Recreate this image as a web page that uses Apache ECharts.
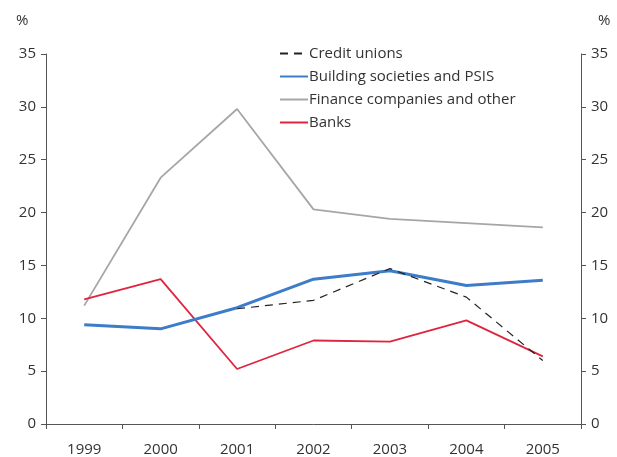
<!DOCTYPE html>
<html><head><meta charset="utf-8">
<script src="https://cdn.jsdelivr.net/npm/echarts@6/dist/echarts.min.js"></script>
<style>html,body{margin:0;padding:0;background:#fff}#c{width:617px;height:457px}</style>
</head><body><div id="c"></div>
<script>
var categories = ['1999','2000','2001','2002','2003','2004','2005'];
var creditUnions = [null, null, 10.9, 11.7, 14.7, 12.0, 6.0];
var buildingSocieties = [9.4, 9.0, 11.0, 13.7, 14.5, 13.1, 13.6];
var financeCompanies = [11.2, 23.3, 29.8, 20.3, 19.4, 19.0, 18.6];
var banks = [11.8, 13.7, 5.2, 7.9, 7.8, 9.8, 6.4];
var yTicks = {min: 0, max: 35, interval: 5};

var font = 'Open Sans';
var txt = '#333';
var axisCol = '#555';
var chart = echarts.init(document.getElementById('c'));
function yAx(pos){
  return {type:'value', position:pos, min:yTicks.min, max:yTicks.max, interval:yTicks.interval,
    axisLine:{show:true, lineStyle:{color:axisCol, width:1}},
    axisTick:{show:true, length:5, lineStyle:{color:axisCol}},
    splitLine:{show:false},
    axisLabel:{color:txt, fontFamily:font, fontSize:15, margin:10}};
}
chart.setOption({
  animation:false,
  grid:{left:46, right:36, top:54, bottom:32, containLabel:false},
  graphic:[
    {type:'text', left:16, top:13, style:{text:'%', fill:txt, font:'15px "Open Sans"'}},
    {type:'text', left:598, top:13, style:{text:'%', fill:txt, font:'15px "Open Sans"'}}
  ],
  legend:{orient:'vertical', left:274, top:41, itemWidth:28, itemHeight:14, itemGap:8,
    itemStyle:{opacity:0},
    textStyle:{color:txt, fontFamily:font, fontSize:15, padding:[0,0,0,-4]},
    data:['Credit unions','Building societies and PSIS','Finance companies and other','Banks']},
  xAxis:{type:'category', data:categories, boundaryGap:true,
    axisLine:{lineStyle:{color:axisCol}},
    axisTick:{show:true, length:5, lineStyle:{color:axisCol}},
    axisLabel:{color:txt, fontFamily:font, fontSize:15, margin:18}},
  yAxis:[yAx('left'), yAx('right')],
  series:[
    {name:'Finance companies and other', type:'line', data:financeCompanies, symbol:'none',
     lineStyle:{color:'#A6A6A6', width:1.8}, itemStyle:{color:'#A6A6A6'}, z:2},
    {name:'Banks', type:'line', data:banks, symbol:'none',
     lineStyle:{color:'#E0233F', width:1.8}, itemStyle:{color:'#E0233F'}, z:3},
    {name:'Building societies and PSIS', type:'line', data:buildingSocieties, symbol:'none',
     lineStyle:{color:'#3C7CC8', width:3}, itemStyle:{color:'#3C7CC8'}, z:4},
    {name:'Credit unions', type:'line', data:creditUnions, symbol:'none',
     lineStyle:{color:'#222', width:1.2, type:[8,6]}, itemStyle:{color:'#222'}, z:5}
  ]
});
</script></body></html>
